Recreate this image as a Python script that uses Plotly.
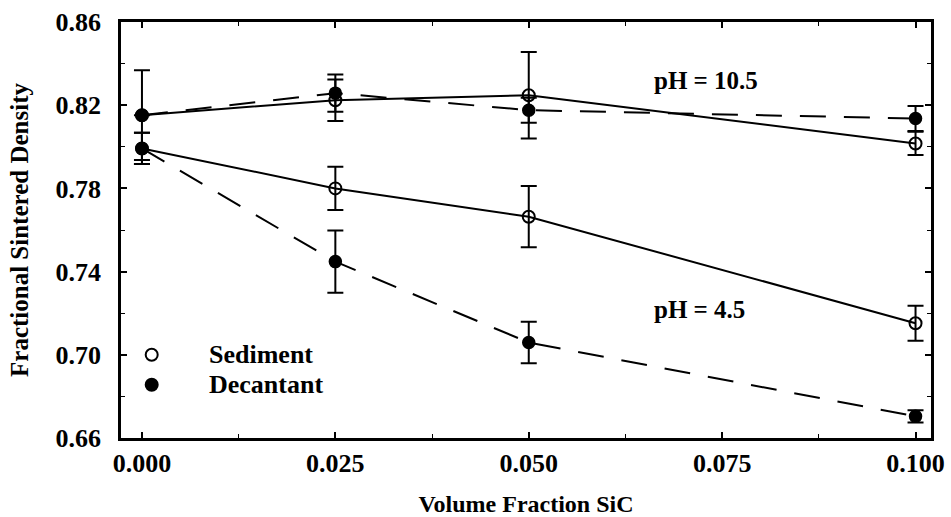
import plotly.graph_objects as go

# Volume fraction of SiC in the composite
sic_fraction = [0.0, 0.025, 0.05, 0.1]

# pH = 10.5 series
sediment_ph105 = [0.8152, 0.8224, 0.8248, 0.8016]
sediment_ph105_err = [0.0, 0.010, 0.0208, 0.0056]
decantant_ph105 = [0.8152, 0.8258, 0.8176, 0.8136]
decantant_ph105_err = [0.0216, 0.009, 0.006, 0.006]

# pH = 4.5 series
sediment_ph45 = [0.7992, 0.7800, 0.7664, 0.7152]
sediment_ph45_err = [0.0075, 0.0104, 0.0147, 0.0084]
decantant_ph45 = [0.7992, 0.7448, 0.7059, 0.6704]
decantant_ph45_err = [0.0075, 0.015, 0.010, 0.003]

legend_labels = ["Sediment", "Decantant"]
y_ticks = [0.66, 0.70, 0.74, 0.78, 0.82, 0.86]
x_ticks = [0.0, 0.025, 0.05, 0.075, 0.1]

FONT = "Liberation Serif"
INK = "black"


def series(yvals, errs, filled, dashed):
    return go.Scatter(
        x=sic_fraction,
        y=yvals,
        mode="lines+markers",
        line=dict(color=INK, width=2, dash="26px,18px" if dashed else "solid"),
        marker=dict(
            symbol="circle" if filled else "circle-open",
            size=12 if filled else 12,
            color=INK,
            line=dict(color=INK, width=1.5 if filled else 2),
        ),
        error_y=dict(type="data", array=errs, visible=True,
                     color=INK, thickness=2, width=8),
        showlegend=False,
        hoverinfo="x+y",
    )


fig = go.Figure()
fig.add_trace(series(sediment_ph105, sediment_ph105_err, False, False))
fig.add_trace(series(sediment_ph45, sediment_ph45_err, False, False))
fig.add_trace(series(decantant_ph105, decantant_ph105_err, True, True))
fig.add_trace(series(decantant_ph45, decantant_ph45_err, True, True))

# pH labels
for text, yv in [("pH = 10.5", 0.832), ("pH = 4.5", 0.7216)]:
    fig.add_annotation(x=0.0659, y=yv, xref="x", yref="y", text=text,
                       showarrow=False, xanchor="left", yanchor="middle",
                       font=dict(family=FONT, size=25, color=INK, weight="bold"))

# Key: symbols drawn as pixel-sized circles, labels as text
key_rows = [0.200, 0.128]
for label, yrow, filled in zip(legend_labels, key_rows, [False, True]):
    fig.add_shape(type="circle", xref="paper", yref="paper",
                  xsizemode="pixel", ysizemode="pixel",
                  xanchor=0.0379, yanchor=yrow,
                  x0=-6, x1=6, y0=-6, y1=6,
                  line=dict(color=INK, width=2),
                  fillcolor=INK if filled else "white")
    fig.add_annotation(x=0.1058, y=yrow, xref="paper", yref="paper", text=label,
                       showarrow=False, xanchor="left", yanchor="middle",
                       font=dict(family=FONT, size=26, color=INK, weight="bold"))

axis_common = dict(
    showgrid=False, zeroline=False,
    showline=True, linecolor=INK, linewidth=2.5, mirror="ticks",
    ticks="inside", ticklen=6, tickwidth=1.5, tickcolor=INK,
    tickfont=dict(family=FONT, size=26, color=INK, weight="bold"),
)

fig.update_xaxes(
    **axis_common,
    range=[-0.00271, 0.1020],
    tickvals=x_ticks, tickformat=".3f",
    minor=dict(dtick=0.0125, tick0=0, ticks="inside", ticklen=4,
               tickwidth=1.2, tickcolor=INK),
    title=dict(text="Volume Fraction SiC", standoff=22,
               font=dict(family=FONT, size=24, color=INK, weight="bold")),
)
fig.update_yaxes(
    **axis_common,
    range=[0.66, 0.86],
    tickvals=y_ticks, tickformat=".2f",
    ticklabelstandoff=12,
    minor=dict(dtick=0.02, tick0=0.66, ticks="inside", ticklen=4,
               tickwidth=1.2, tickcolor=INK),
    title=dict(text="Fractional Sintered Density", standoff=20,
               font=dict(family=FONT, size=25, color=INK, weight="bold")),
)

fig.update_layout(
    width=951, height=517,
    margin=dict(l=121, r=20, t=22, b=79, autoexpand=False),
    paper_bgcolor="white", plot_bgcolor="white",
    font=dict(family=FONT, color=INK),
)

fig.write_html("out.html")
